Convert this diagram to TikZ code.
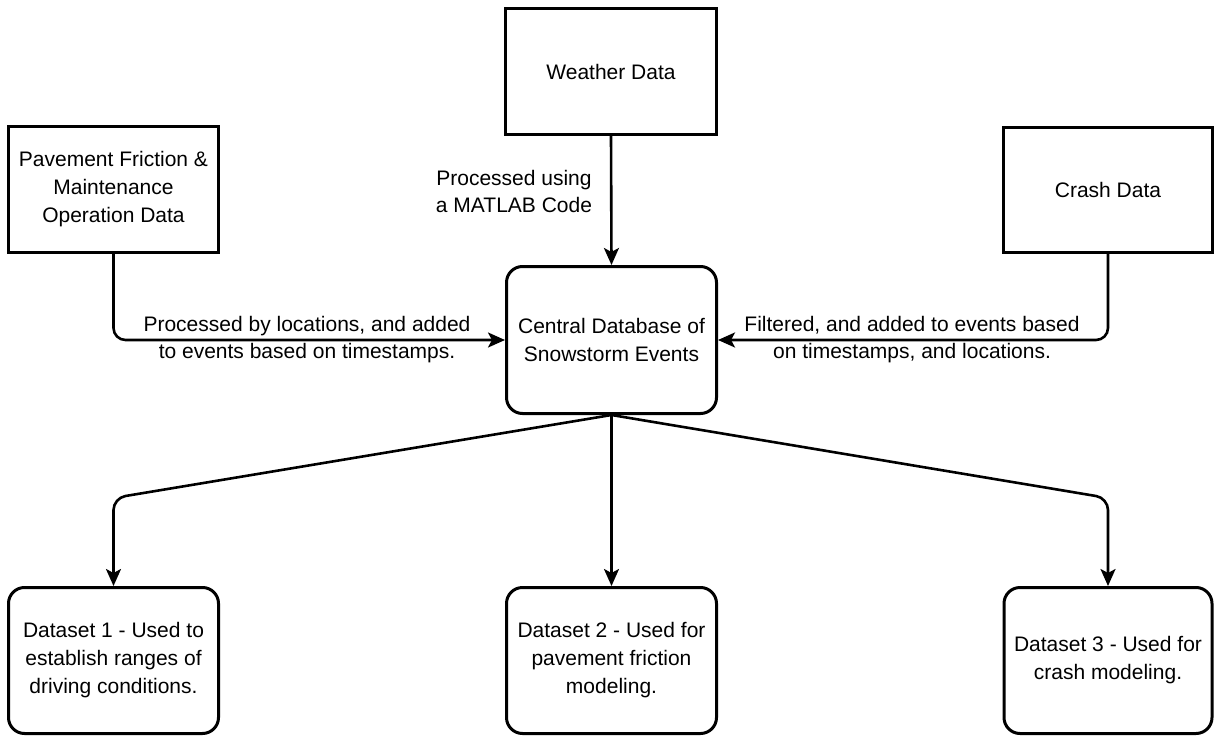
\documentclass[tikz,border=0pt]{standalone}
\usepackage{fontspec}
\setmainfont{Liberation Sans}
\usetikzlibrary{arrows.meta}
\begin{document}
\begin{tikzpicture}[x=1pt,y=-1pt,
  box/.style={draw, line width=3pt, align=center, inner sep=0pt, font=\fontsize{21}{28}\selectfont},
  rbox/.style={box, rounded corners=16pt},
  conn/.style={line width=2.6pt, -{Stealth[length=17pt,width=15pt,inset=4pt]}, rounded corners=12pt},
  lbl/.style={align=center, inner sep=0pt, font=\fontsize{21}{27}\selectfont}]
\useasboundingbox (0,0) rectangle (1215,738);
\node[box, minimum width=211pt, minimum height=126pt] (weather) at (611,71.5) {Weather Data};
\node[box, minimum width=210pt, minimum height=126pt] (pave) at (113.5,189.5) {Pavement Friction \&\\Maintenance\\Operation Data};
\node[box, minimum width=209pt, minimum height=125pt] (crash) at (1108,190) {Crash Data};
\node[rbox, minimum width=210pt, minimum height=147pt] (central) at (611.5,340) {Central Database of\\Snowstorm Events};
\node[rbox, minimum width=210pt, minimum height=146pt] (d1) at (113.5,660.5) {Dataset 1 - Used to\\establish ranges of\\driving conditions.};
\node[rbox, minimum width=210pt, minimum height=146pt] (d2) at (611.5,660.5) {Dataset 2 - Used for\\pavement friction\\modeling.};
\node[rbox, minimum width=208pt, minimum height=146pt] (d3) at (1108,660.5) {Dataset 3 - Used for\\crash modeling.};
\coordinate (k1) at (113.5,498);
\coordinate (k3) at (1108,498);
\draw[conn] (weather.south) -- (central.north);
\draw[conn] (pave.south) |- (central.west);
\draw[conn] (crash.south) |- (central.east);
\draw[conn] (central.south) -- (k1) -- (d1.north);
\draw[conn] (central.south) -- (d2.north);
\draw[conn] (central.south) -- (k3) -- (d3.north);
\node[lbl] (l1) at (514,191) {Processed using\\a MATLAB Code};
\node[lbl] (l2) at (307,340) {Processed by locations, and added\\to events based on timestamps.};
\node[lbl] (l3) at (912,340) {Filtered, and added to events based\\on timestamps, and locations.};
\end{tikzpicture}
\end{document}
